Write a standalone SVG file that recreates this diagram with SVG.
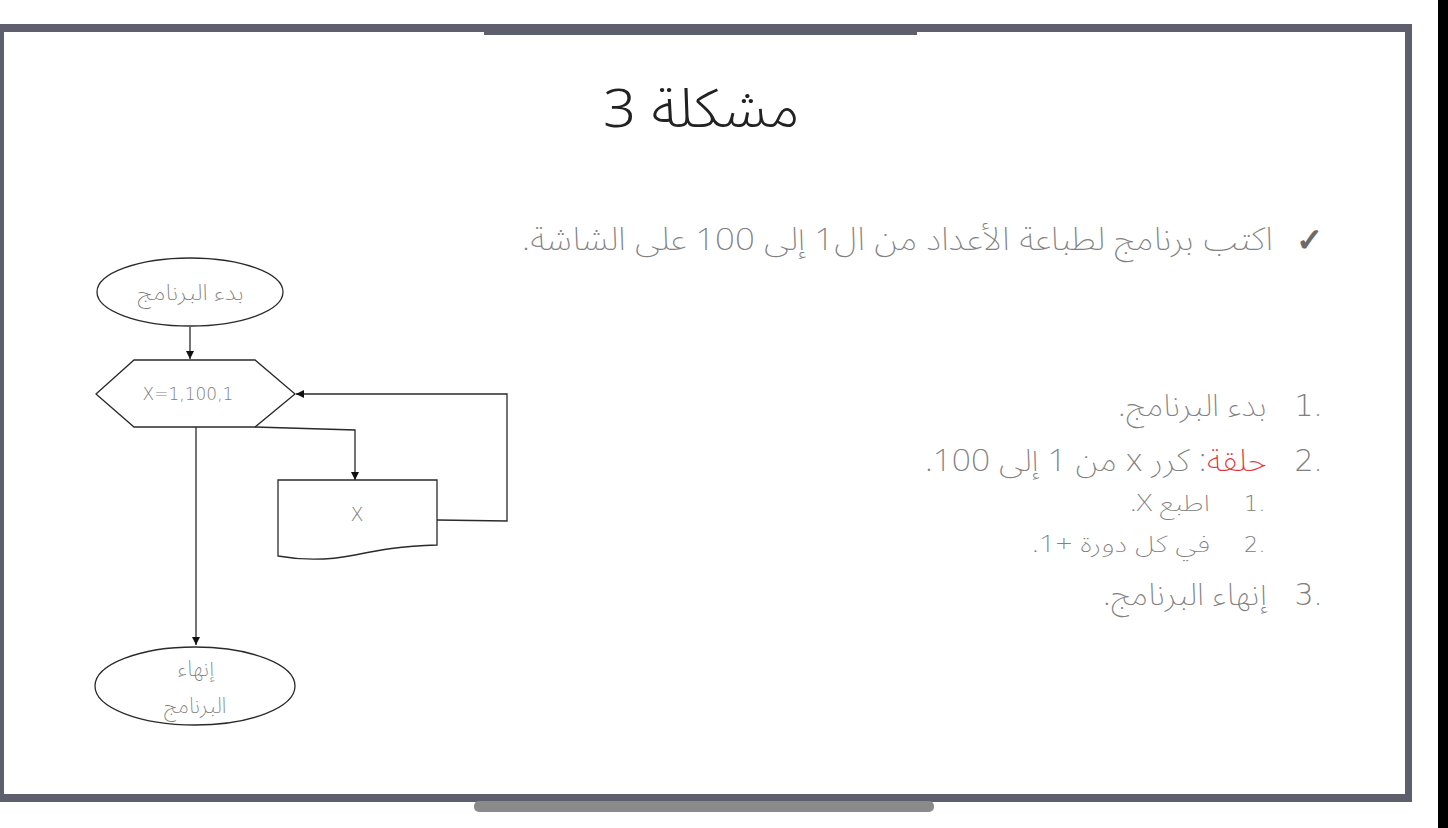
<svg xmlns="http://www.w3.org/2000/svg" width="1448" height="828" viewBox="0 0 1448 828">
<style>
.frame{fill:#5d5f6d}
.ln{fill:none;stroke:#2a2a2a;stroke-width:1.3}
.shape{fill:#ffffff;stroke:#2a2a2a;stroke-width:1.3}
.ar{font-family:"Noto Sans Arabic","DejaVu Sans","Liberation Sans",sans-serif;font-weight:200;fill:#808080}
.num{font-family:"DejaVu Sans","Liberation Sans",sans-serif;font-weight:200;fill:#808080;text-anchor:middle}
.node{font-family:"Noto Sans Arabic","DejaVu Sans","Liberation Sans",sans-serif;font-weight:200;fill:#7a7a7a;font-size:22px}
</style>
<defs>
<marker id="ah" viewBox="0 0 10 10" refX="10" refY="5" markerWidth="8" markerHeight="8" markerUnits="userSpaceOnUse" orient="auto">
<path d="M0,0 L10,5 L0,10 z" fill="#111"/>
</marker>
</defs>
<rect width="1448" height="828" fill="#ffffff"/>
<rect x="1438" y="0" width="10" height="828" fill="#000"/>
<g id="frame">
<rect class="frame" x="0" y="24" width="1412" height="8"/>
<rect class="frame" x="484" y="31" width="433" height="4"/>
<rect class="frame" x="0" y="24" width="4" height="778"/>
<rect class="frame" x="1405" y="24" width="7" height="778"/>
<rect class="frame" x="0" y="794" width="1412" height="8"/>
<rect x="474" y="801" width="460" height="11" rx="5" fill="#8a8a8a"/>
</g>
<g id="title">
<text x="800" y="127" font-family="Noto Sans Arabic,DejaVu Sans,sans-serif" font-weight="300" font-size="54" fill="#222" direction="rtl" text-anchor="start" textLength="197" lengthAdjust="spacingAndGlyphs">مشكلة 3</text>
</g>
<g id="task">
<text x="1323" y="251" font-family="DejaVu Sans,sans-serif" font-size="32" fill="#6a6a6a" stroke="#6a6a6a" stroke-width="1.2" text-anchor="end">✓</text>
<text class="ar" x="1273" y="250" font-size="32" direction="rtl" text-anchor="start" textLength="751" lengthAdjust="spacingAndGlyphs">اكتب برنامج لطباعة الأعداد من ال1 إلى 100 على الشاشة.</text>
</g>
<g id="steps">
<text class="num" x="1304" y="416" font-size="30">1</text><text class="num" x="1318" y="416" font-size="30">.</text>
<text class="ar" x="1267" y="416" font-size="31" direction="rtl" text-anchor="start" textLength="149" lengthAdjust="spacingAndGlyphs">بدء البرنامج.</text>
<text class="num" x="1304" y="471" font-size="30">2</text><text class="num" x="1318" y="471" font-size="30">.</text>
<text class="ar" x="1267" y="471" font-size="31" direction="rtl" text-anchor="start" textLength="342" lengthAdjust="spacingAndGlyphs"><tspan fill="#e0303a">حلقة</tspan>: كرر x من 1 إلى 100.</text>
<text class="num" x="1251" y="511" font-size="22">1</text><text class="num" x="1262" y="511" font-size="22">.</text>
<text class="ar" x="1210" y="511" font-size="23" direction="rtl" text-anchor="start" textLength="80" lengthAdjust="spacingAndGlyphs">اطبع X.</text>
<text class="num" x="1251" y="552" font-size="22">2</text><text class="num" x="1262" y="552" font-size="22">.</text>
<text class="ar" x="1210" y="552" font-size="23" direction="rtl" text-anchor="start" textLength="178" lengthAdjust="spacingAndGlyphs">في كل دورة +1.</text>
<text class="num" x="1304" y="605" font-size="30">3</text><text class="num" x="1318" y="605" font-size="30">.</text>
<text class="ar" x="1267" y="605" font-size="31" direction="rtl" text-anchor="start" textLength="164" lengthAdjust="spacingAndGlyphs">إنهاء البرنامج.</text>
</g>
<g id="connectors">
<path class="ln" d="M190,327 L190,359" marker-end="url(#ah)"/>
<path class="ln" d="M255,427 L355,430 L355,480" marker-end="url(#ah)"/>
<path class="ln" d="M196,427 L196,645" marker-end="url(#ah)"/>
<path class="ln" d="M437,520 L507,521 L507,394 L296,394" marker-end="url(#ah)"/>
</g>
<g id="start">
<ellipse class="shape" cx="190" cy="292" rx="93" ry="34"/>
<text class="node" x="244" y="300" direction="rtl" text-anchor="start" textLength="107" lengthAdjust="spacingAndGlyphs">بدء البرنامج</text>
</g>
<g id="loop">
<polygon class="shape" points="96,394 134,360 255,360 295,394 255,427 134,427"/>
<text class="num" x="188" y="400" font-size="17" fill="#666">X=1,100,1</text>
</g>
<g id="print">
<path class="shape" d="M278,480 L437,480 L437,545 C400,546 380,550 355,555 C325,561 300,560 278,556 Z"/>
<text class="num" x="357" y="521" font-size="19" fill="#888">X</text>
</g>
<g id="end">
<ellipse class="shape" cx="195" cy="686" rx="100" ry="39"/>
<text class="node" x="196" y="676" text-anchor="middle" direction="rtl">إنهاء</text>
<text class="node" x="195" y="713" text-anchor="middle" direction="rtl">البرنامج</text>
</g>
</svg>
